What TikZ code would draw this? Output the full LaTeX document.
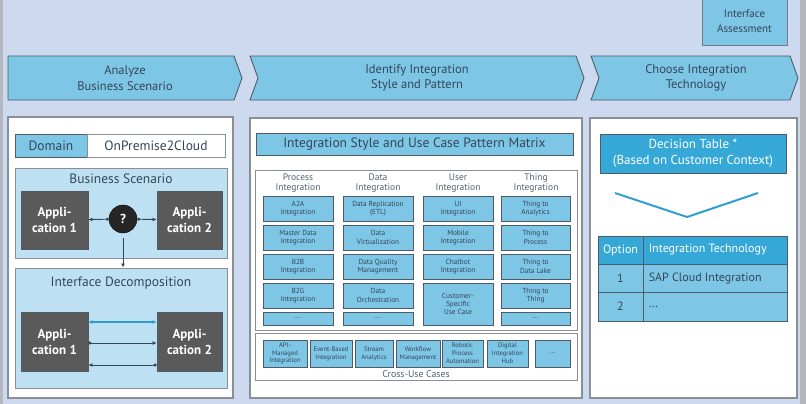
\documentclass[tikz,border=0pt]{standalone}
\usepackage{fontspec}
\setmainfont{PT Sans}
\usetikzlibrary{arrows.meta}
\definecolor{bgc}{HTML}{CDD9EE}
\definecolor{cy}{HTML}{7DC6E5}
\definecolor{lcy}{HTML}{BDE1F3}
\definecolor{dcy}{HTML}{36A8D8}
\definecolor{bord}{HTML}{4F5B66}
\definecolor{txt}{HTML}{34465A}
\definecolor{appc}{HTML}{5A5A5A}
\definecolor{pgray}{HTML}{8A8F96}
\definecolor{vlinec}{HTML}{2E9FD0}
\definecolor{framec}{HTML}{B4B8BE}
\definecolor{arrblue}{HTML}{2A9CCF}
\begin{document}
\begin{tikzpicture}[x=1pt,y=-1pt,
  every node/.style={inner sep=0pt, text=txt},
  rect/.style n args={4}{minimum width={(#3)-(#1)}, minimum height={(#4)-(#2)}, at={({((#1)+(#3))/2},{((#2)+(#4))/2})}},
  chevron/.style={fill=cy, draw=bord, line width=0.9pt, line join=round},
  chevtext/.style={font=\fontsize{12.5}{15.5}\selectfont, align=center},
  panel/.style={fill=white, draw=pgray, line width=1.2pt},
  cybox/.style={fill=cy, draw=bord, line width=0.9pt},
  whitebox/.style={fill=white, draw=pgray, line width=0.9pt},
  scen/.style={fill=lcy, draw=pgray, line width=1pt},
  big/.style={font=\fontsize{13.5}{15}\selectfont},
  appbox/.style={fill=appc, draw=bord, line width=0.8pt, text=white, align=center, font=\bfseries\fontsize{13}{16}\selectfont},
  mbox/.style={fill=cy, draw=bord, line width=0.9pt, align=center, font=\fontsize{7.3}{8.3}\selectfont},
  xbox/.style={mbox, font=\fontsize{6.6}{7.8}\selectfont},
  hdr/.style={align=center, font=\fontsize{9.5}{10}\selectfont, text=txt!85},
  darr/.style={draw=txt, line width=0.9pt, {Circle[length=3pt]}-{Latex[length=4pt,width=4pt]}},
  tcell/.style={draw=bord, line width=0.9pt},
  ttext/.style={font=\fontsize{12}{13}\selectfont}
]
\useasboundingbox (0,0) rectangle (806,404);
\fill[framec] (0,0) rectangle (806,404);
\fill[bgc] (3,0) rectangle (800,404);

% Interface Assessment
\node[cybox, draw=bord!80, rect={702}{-3}{787}{45}, align=center, font=\fontsize{11}{15}\selectfont] (ia) {Interface\\Assessment};

% Chevrons
\draw[chevron] (8,56) -- (234,56) -- (242,78) -- (234,100) -- (8,100) -- cycle;
\draw[chevron] (250,56) -- (576,56) -- (584,78) -- (576,100) -- (250,100) -- (258,78) -- cycle;
\draw[chevron] (591,56) -- (790,56) -- (798,78) -- (790,100) -- (591,100) -- (599,78) -- cycle;
\node[chevtext] (c1) at (125,78) {Analyze\\Business Scenario};
\node[chevtext] (c2) at (417,78) {Identify Integration\\Style and Pattern};
\node[chevtext] (c3) at (696,78) {Choose Integration\\Technology};

% ---------- Left panel
\node[panel, rect={8}{117}{233}{398}] (lp) {};
\node[cybox, rect={15}{134}{87}{157}, big] (dom) {Domain};
\node[whitebox, rect={87}{134}{225}{157}, big] (val) {OnPremise2Cloud};
\node[scen, rect={15}{168}{227}{258}] (bs) {};
\node[big] (bst) at (121,179) {Business Scenario};
\node[appbox, rect={21}{191}{88}{249}] (a1) {Appli-\\cation 1};
\node[appbox, rect={157}{191}{222}{249}] (a2) {Appli-\\cation 2};
\node[circle, fill=black!85, draw=black, minimum size=28pt, text=white, font=\bfseries\fontsize{13}{13}\selectfont] (q) at (123,219) {?};
\draw[darr] (q) -- (a1);
\draw[darr] (q) -- (a2);
\node[scen, rect={15}{268}{227}{388}] (idc) {};
\node[big] (idt) at (121,283) {Interface Decomposition};
\draw[draw=txt, line width=0.9pt, -{Latex[length=4pt,width=4pt]}, shorten <=5pt] (q.south) -- (q.south |- idc.north);
\node[appbox, rect={21}{312}{88}{371}] (b1) {Appli-\\cation 1};
\node[appbox, rect={157}{312}{222}{371}] (b2) {Appli-\\cation 2};
\draw[draw=arrblue, line width=1.1pt, {Latex[length=4pt,width=4pt]}-{Latex[length=4pt,width=4pt]}] ([yshift=19.5pt]b1.east) -- ([yshift=19.5pt]b2.west);
\draw[darr] ([yshift=-1.5pt]b1.east) -- ([yshift=-1.5pt]b2.west);
\draw[darr] ([yshift=-23.5pt]b2.west) -- ([yshift=-23.5pt]b1.east);

% ---------- Middle panel
\node[panel, rect={250}{118}{582}{398}] (mp) {};
\node[cybox, rect={256}{133}{573}{155}, big] (mt) {Integration Style and Use Case Pattern Matrix};
\node[whitebox, rect={255}{170}{577}{330}] (mx) {};
\node[hdr] (h1) at (298,183) {Process\\Integration};
\node[hdr] (h2) at (378,183) {Data\\Integration};
\node[hdr] (h3) at (458,183) {User\\Integration};
\node[hdr] (h4) at (536,183) {Thing\\Integration};
% column 1
\node[mbox, rect={263}{196}{333}{221}] (p1) {A2A\\Integration};
\node[mbox, rect={263}{225}{333}{250}] (p2) {Master Data\\Integration};
\node[mbox, rect={263}{254}{333}{279}] (p3) {B2B\\Integration};
\node[mbox, rect={263}{283}{333}{308}] (p4) {B2G\\Integration};
\node[mbox, rect={263}{312}{333}{325}] (p5) {...};
% column 2
\node[mbox, rect={343}{196}{413}{221}] (d1) {Data Replication\\(ETL)};
\node[mbox, rect={343}{225}{413}{250}] (d2) {Data\\Virtualization};
\node[mbox, rect={343}{254}{413}{279}] (d3) {Data Quality\\Management};
\node[mbox, rect={343}{283}{413}{308}] (d4) {Data\\Orchestration};
\node[mbox, rect={343}{312}{413}{325}] (d5) {...};
% column 3
\node[mbox, rect={423}{196}{493}{221}] (u1) {UI\\Integration};
\node[mbox, rect={423}{225}{493}{250}] (u2) {Mobile\\Integration};
\node[mbox, rect={423}{254}{493}{279}] (u3) {Chatbot\\Integration};
\node[mbox, rect={423}{283}{493}{325}] (u4) {Customer-\\Specific\\Use Case};
% column 4
\node[mbox, rect={501}{196}{570}{221}] (t1) {Thing to\\Analytics};
\node[mbox, rect={501}{225}{570}{250}] (t2) {Thing to\\Process};
\node[mbox, rect={501}{254}{570}{279}] (t3) {Thing to\\Data Lake};
\node[mbox, rect={501}{283}{570}{308}] (t4) {Thing to\\Thing};
\node[mbox, rect={501}{312}{570}{325}] (t5) {...};
% cross-use cases
\node[whitebox, rect={255}{333}{577}{380}] (cu) {};
\node[xbox, rect={263}{340}{307}{367}] (x1) {API-\\Managed\\Integration};
\node[xbox, rect={310}{340}{352}{367}] (x2) {Event-Based\\Integration};
\node[xbox, rect={355}{340}{393}{367}] (x3) {Stream\\Analytics};
\node[xbox, rect={396}{340}{440}{367}] (x4) {Workflow\\Management};
\node[xbox, rect={442}{340}{483}{367}] (x5) {Robotic\\Process\\Automation};
\node[xbox, rect={487}{340}{528}{367}] (x6) {Digital\\Integration\\Hub};
\node[xbox, rect={535}{340}{570}{367}] (x7) {...};
\node[font=\fontsize{9.8}{10}\selectfont, text=txt!85] (cut) at (416,374.5) {Cross-Use Cases};

% ---------- Right panel
\node[panel, rect={590}{118}{797}{398}] (rp) {};
\node[fill=dcy, draw=bord, line width=0.9pt, rect={600}{134}{786}{173}, text=white, align=center, font=\fontsize{13}{16}\selectfont] (dt) {Decision Table *\\(Based on Customer Context)};
\coordinate (v1) at (615,193);
\coordinate (v2) at (687,217);
\coordinate (v3) at (758,193);
\draw[vlinec, line width=2pt] (v1) -- (v2) -- (v3);
\node[tcell, fill=dcy, rect={598}{236}{643}{264}, text=white, ttext] (o0) {Option};
\node[tcell, fill=dcy, rect={643}{236}{787}{264}] (i0) {};
\node[tcell, fill=cy, rect={598}{264}{643}{292}, ttext] (o1) {1};
\node[tcell, fill=cy, rect={643}{264}{787}{292}] (i1) {};
\node[tcell, fill=cy, rect={598}{292}{643}{321}, ttext] (o2) {2};
\node[tcell, fill=cy, rect={643}{292}{787}{321}] (i2) {};
\draw[bord, line width=1.6pt] (o0.north east) -- (o2.south east);
\node[anchor=west, ttext, text=white] (i0t) at ([xshift=6pt]i0.west) {Integration Technology};
\node[anchor=west, ttext] (i1t) at ([xshift=6pt]i1.west) {SAP Cloud Integration};
\node[anchor=west, ttext] (i2t) at ([xshift=6pt]i2.west) {...};
\end{tikzpicture}
\end{document}
